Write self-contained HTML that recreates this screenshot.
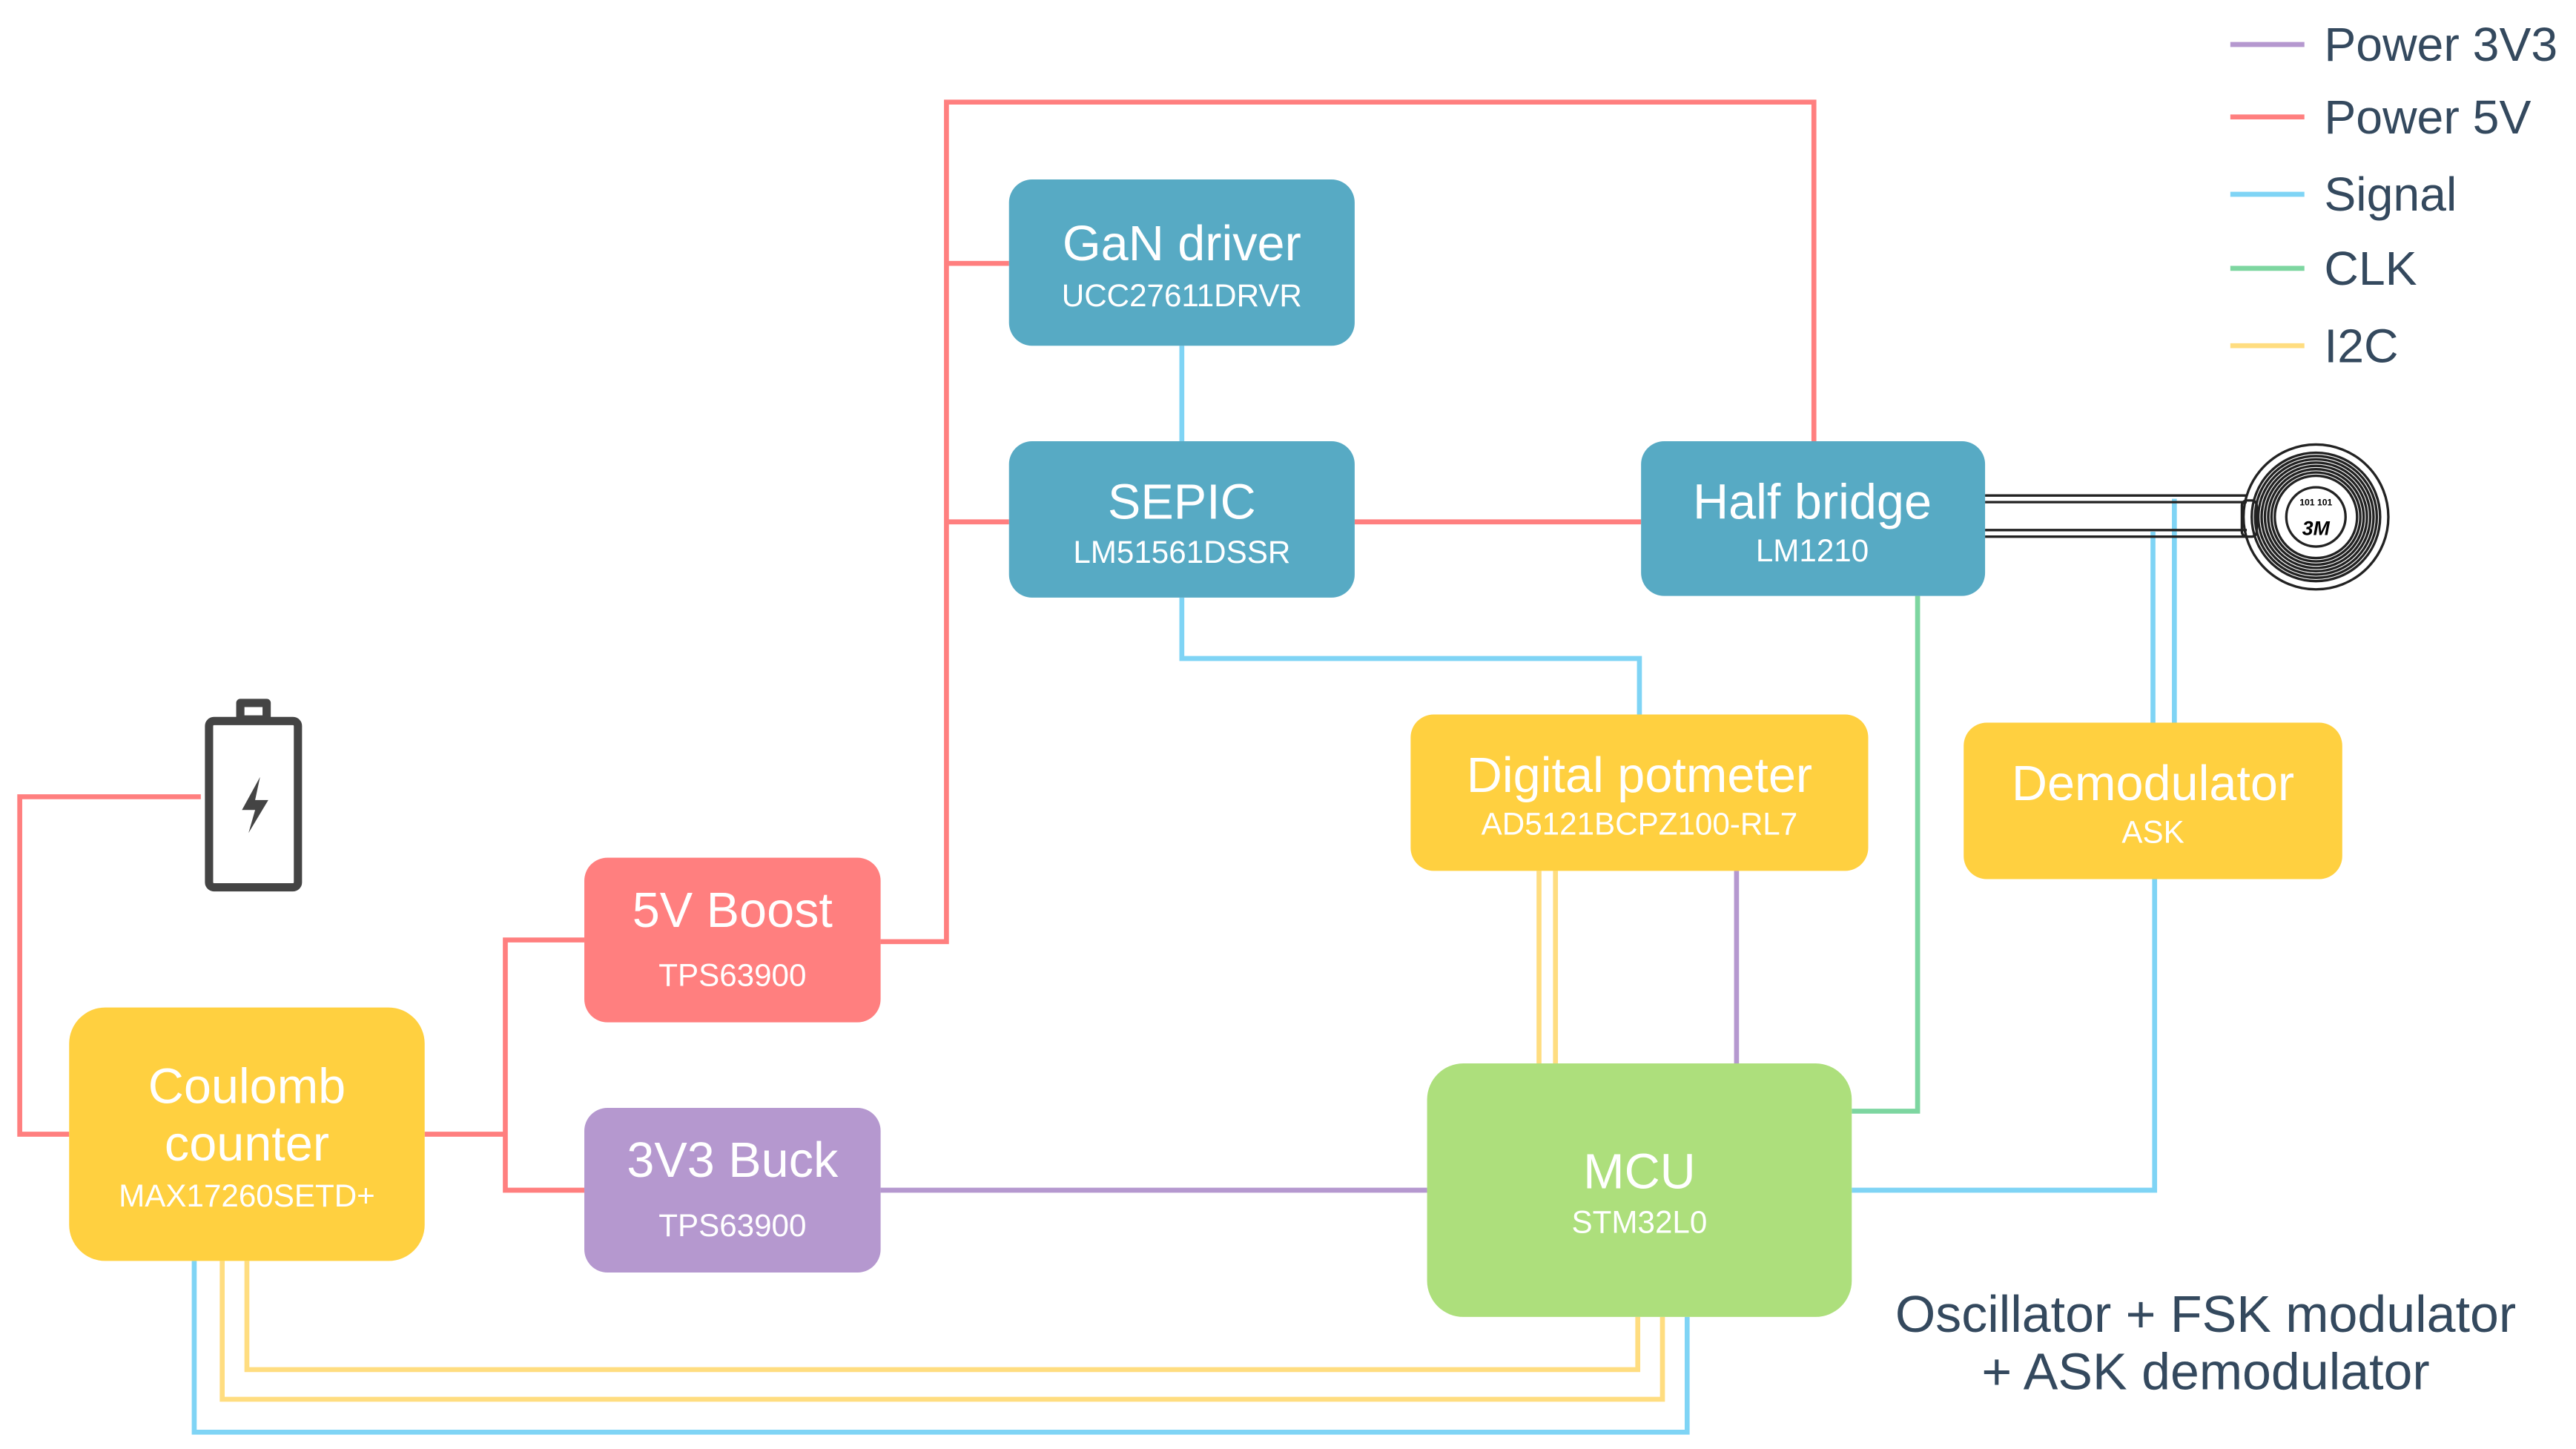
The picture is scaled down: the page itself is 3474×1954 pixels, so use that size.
<!DOCTYPE html>
<html><head><meta charset="utf-8"><style>
html,body{margin:0;padding:0;background:#fff;}
svg{display:block;}
text{font-family:"Liberation Sans",sans-serif;}
</style></head><body>
<svg width="3474" height="1954" viewBox="0 0 1565 880.2" xmlns="http://www.w3.org/2000/svg">
<g fill="none" stroke-width="3">
<g stroke="#ff7f7f">
<polyline points="122,484 12,484 12,689 42,689"/>
<polyline points="258,689 307,689"/>
<polyline points="355,571 307,571 307,723 355,723"/>
<polyline points="535,572 575,572 575,62 1102,62 1102,268"/>
<line x1="575" y1="160" x2="613" y2="160"/>
<line x1="575" y1="317" x2="613" y2="317"/>
<line x1="823" y1="317" x2="997" y2="317"/>
</g>
<g stroke="#7fd4f5">
<line x1="718" y1="210" x2="718" y2="268"/>
<polyline points="718,363 718,400 996,400 996,434"/>
<line x1="1308" y1="323" x2="1308" y2="439"/>
<line x1="1321" y1="303" x2="1321" y2="439"/>
<polyline points="1309,534 1309,723 1125,723"/>
<polyline points="118,766 118,870 1025,870 1025,800"/>
</g>
<g stroke="#ffdd80">
<polyline points="135,766 135,850 1010,850 1010,800"/>
<polyline points="150,766 150,832 995,832 995,800"/>
<line x1="935" y1="529" x2="935" y2="646"/>
<line x1="945" y1="529" x2="945" y2="646"/>
</g>
<g stroke="#b598cf">
<line x1="535" y1="723" x2="867" y2="723"/>
<line x1="1055" y1="529" x2="1055" y2="646"/>
</g>
<polyline stroke="#7dd6a0" points="1165,362 1165,675 1125,675"/>
</g>
<g fill="none" stroke="#222" stroke-width="1.5">
<path d="M1206,301 H1365 M1206,305 H1365 M1206,322 H1365 M1206,326 H1365"/>
<rect x="1362" y="304" width="9" height="22" rx="3"/>
<circle cx="1407" cy="314" r="44"/>
<circle cx="1407" cy="314" r="39"/><circle cx="1407" cy="314" r="37"/><circle cx="1407" cy="314" r="35"/><circle cx="1407" cy="314" r="33"/><circle cx="1407" cy="314" r="31"/><circle cx="1407" cy="314" r="29"/><circle cx="1407" cy="314" r="27"/><circle cx="1407" cy="314" r="25"/>
<circle cx="1407" cy="314" r="18"/>
</g>
<text x="1407" y="307" font-size="5.5" text-anchor="middle" font-weight="bold">101 101</text>
<text x="1407" y="325" font-size="12" text-anchor="middle" font-weight="bold" font-style="italic">3M</text>
<g fill="none" stroke="#444" stroke-width="5" stroke-linejoin="round">
<rect x="127" y="438" width="54" height="101" rx="3"/>
<rect x="146" y="427" width="16" height="10"/>
</g>
<path d="M158,472 L147,492 L155,492 L151,506 L163,486 L155,486 Z" fill="#444"/>
<g>
<rect x="613" y="109" width="210" height="101" rx="14" fill="#57aac4"/>
<rect x="613" y="268" width="210" height="95" rx="14" fill="#57aac4"/>
<rect x="997" y="268" width="209" height="94" rx="14" fill="#57aac4"/>
<rect x="857" y="434" width="278" height="95" rx="14" fill="#ffd040"/>
<rect x="1193" y="439" width="230" height="95" rx="14" fill="#ffd040"/>
<rect x="355" y="521" width="180" height="100" rx="14" fill="#ff7f7f"/>
<rect x="355" y="673" width="180" height="100" rx="14" fill="#b598cf"/>
<rect x="42" y="612" width="216" height="154" rx="22" fill="#ffd040"/>
<rect x="867" y="646" width="258" height="154" rx="22" fill="#addf7c"/>
</g>
<g fill="#fff" text-anchor="middle">
<text x="718" y="158" font-size="30">GaN driver</text>
<text x="718" y="186" font-size="19">UCC27611DRVR</text>
<text x="718" y="315" font-size="30">SEPIC</text>
<text x="718" y="342" font-size="19">LM51561DSSR</text>
<text x="1101" y="315" font-size="30">Half bridge</text>
<text x="1101" y="341" font-size="19">LM1210</text>
<text x="996" y="481" font-size="30">Digital potmeter</text>
<text x="996" y="507" font-size="19">AD5121BCPZ100-RL7</text>
<text x="1308" y="486" font-size="30">Demodulator</text>
<text x="1308" y="512" font-size="19">ASK</text>
<text x="445" y="563" font-size="30">5V Boost</text>
<text x="445" y="599" font-size="19">TPS63900</text>
<text x="445" y="715" font-size="30">3V3 Buck</text>
<text x="445" y="751" font-size="19">TPS63900</text>
<text x="150" y="670" font-size="30">Coulomb</text>
<text x="150" y="705" font-size="30">counter</text>
<text x="150" y="733" font-size="19">MAX17260SETD+</text>
<text x="996" y="722" font-size="30">MCU</text>
<text x="996" y="749" font-size="19">STM32L0</text>
</g>
<g fill="#34495e" font-size="31.5">
<text x="1340" y="809" text-anchor="middle">Oscillator + FSK modulator</text>
<text x="1340" y="844" text-anchor="middle">+ ASK demodulator</text>
</g>
<g stroke-width="3">
<line x1="1355" y1="27" x2="1400" y2="27" stroke="#b598cf"/>
<line x1="1355" y1="71" x2="1400" y2="71" stroke="#ff7f7f"/>
<line x1="1355" y1="118" x2="1400" y2="118" stroke="#7fd4f5"/>
<line x1="1355" y1="163" x2="1400" y2="163" stroke="#7dd6a0"/>
<line x1="1355" y1="210" x2="1400" y2="210" stroke="#ffdd80"/>
</g>
<g fill="#34495e" font-size="29">
<text x="1412" y="37">Power 3V3</text>
<text x="1412" y="81">Power 5V</text>
<text x="1412" y="128">Signal</text>
<text x="1412" y="173">CLK</text>
<text x="1412" y="220">I2C</text>
</g>
</svg>
</body></html>
